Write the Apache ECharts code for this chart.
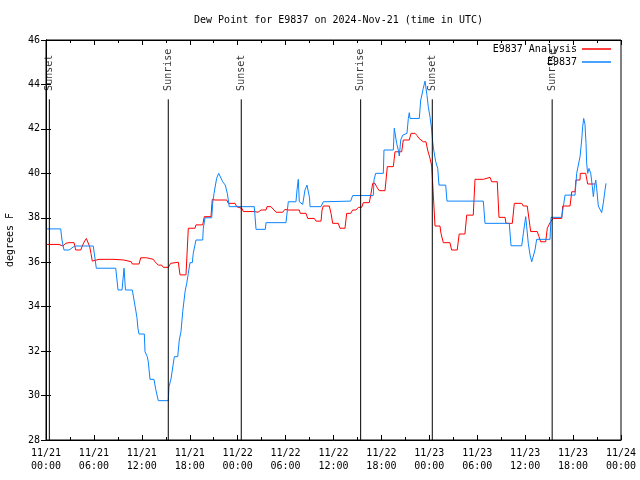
<!DOCTYPE html>
<html>
<head>
<meta charset="utf-8">
<script src="https://cdn.jsdelivr.net/npm/echarts@6/dist/echarts.min.js"></script>
<style>html,body{margin:0;padding:0;background:#fff}#c{width:640px;height:480px}</style>
</head>
<body>
<div id="c"></div>
<script>
// Hours since 2024-11-21 00:00 UTC
const obsHours = [0.09,1.84,2.0,2.25,2.88,3.59,5.92,6.30,8.73,9.02,9.52,9.77,9.95,10.81,11.02,11.27,11.39,11.52,11.65,12.31,12.40,12.68,12.81,13.02,13.52,13.74,14.06,15.31,15.40,15.65,15.78,16.07,16.49,16.69,16.90,17.12,17.41,17.62,17.82,18.03,18.32,18.44,18.78,19.62,19.70,19.91,20.75,20.87,21.04,21.37,21.62,21.79,22.13,22.45,22.70,22.95,26.08,26.30,27.46,27.55,30.05,30.34,31.30,31.43,31.59,31.72,32.14,32.27,32.43,32.68,32.93,33.0,33.06,34.44,34.72,38.15,38.40,40.98,41.07,41.28,42.24,42.32,43.49,43.61,43.91,44.11,44.24,44.42,44.67,45.20,45.37,45.49,45.58,46.74,46.92,47.04,47.24,47.46,47.58,47.71,47.87,48.08,48.30,48.42,48.55,48.80,49.05,49.21,50.05,50.21,54.76,54.97,58.01,58.23,59.57,59.77,60.07,60.19,60.39,60.61,60.82,61.02,61.23,61.44,63.11,63.24,64.58,64.99,66.24,66.45,66.65,66.87,67.08,67.20,67.33,67.49,67.62,67.70,67.83,67.99,68.21,68.41,68.54,68.66,68.84,68.96,69.16,69.37,69.58,69.78,70.0,70.12];
const obsValues = [37.5,37.5,37.0,36.55,36.55,36.73,36.73,35.73,35.73,34.75,34.75,35.73,34.75,34.75,34.3,33.77,33.5,33.0,32.77,32.77,31.97,31.75,31.52,30.73,30.73,30.28,29.77,29.77,30.4,30.74,30.74,31.75,31.75,32.5,32.87,33.77,34.67,35.05,35.5,35.98,35.98,36.4,37.0,37.0,37.53,38.0,38.0,38.65,39.1,39.78,40.0,40.0,39.62,39.47,39.1,38.5,38.5,37.48,37.48,37.78,37.78,38.72,38.72,39.25,39.73,38.72,38.6,38.53,39.25,39.47,39.5,38.9,38.5,38.5,38.72,38.75,39.0,39.0,39.7,40.0,40.0,41.05,41.05,42.03,41.35,41.05,40.78,41.5,41.72,41.8,42.47,42.73,42.47,42.47,43.3,43.48,43.83,44.15,44.12,43.5,43.0,42.55,41.95,41.42,41.05,40.52,40.22,39.47,39.47,38.75,38.75,37.75,37.75,36.74,36.74,37.3,38.05,37.6,36.85,36.33,36.02,36.02,36.55,37.03,37.03,38.02,38.02,39.02,39.02,40.0,40.0,40.75,41.5,42.1,42.47,42.2,41.35,40.45,40.0,40.22,40.0,39.4,38.95,39.35,39.7,39.3,38.53,38.45,38.23,38.65,39.25,39.55];

const anaHours = [0.09,1.63,1.84,2.13,2.47,2.88,3.51,3.72,4.35,4.55,4.76,5.05,5.30,5.47,5.63,5.80,6.01,6.64,8.51,8.73,9.76,9.98,10.68,10.81,11.65,11.86,12.61,12.81,13.44,13.65,14.06,14.49,14.69,15.31,15.61,15.74,16.57,16.78,17.53,17.82,18.66,18.78,19.62,19.82,20.66,20.82,21.16,22.63,22.83,23.67,23.88,24.13,24.54,24.71,26.08,26.55,26.92,27.55,27.67,28.17,28.80,29.64,29.93,30.27,31.72,31.84,32.56,32.77,33.60,33.81,34.44,34.56,34.72,35.47,35.69,35.90,36.60,36.81,37.44,37.65,38.15,38.40,38.81,39.11,39.53,39.73,40.48,40.70,40.91,41.20,41.39,41.73,42.45,42.74,43.49,43.70,44.54,44.74,45.49,45.71,46.21,46.46,46.71,46.96,47.24,47.58,47.79,48.08,48.30,48.50,48.71,49.33,49.46,49.62,49.75,50.58,50.79,51.49,51.74,52.46,52.68,53.50,53.72,54.76,54.89,55.60,55.81,56.51,56.72,57.48,57.60,58.39,58.64,59.57,59.77,60.26,60.69,61.52,61.73,61.94,62.57,62.77,63.02,63.19,63.52,64.58,64.70,65.62,65.83,66.24,66.36,66.87,66.90,67.58,67.83,68.74];
const anaValues = [36.8,36.8,36.73,36.73,36.85,36.88,36.88,36.55,36.55,36.73,36.9,37.07,37.07,36.7,36.4,36.05,36.05,36.13,36.13,36.1,36.1,36.02,36.02,35.92,35.92,36.2,36.2,36.13,36.13,36.02,35.87,35.87,35.77,35.77,35.95,36.0,36.0,35.43,35.43,37.53,37.53,37.68,37.68,38.05,38.05,38.83,38.8,38.8,38.65,38.65,38.5,38.42,38.42,38.28,38.28,38.25,38.35,38.35,38.5,38.5,38.25,38.25,38.38,38.35,38.35,38.2,38.2,37.97,37.97,37.85,37.85,38.35,38.53,38.53,38.2,37.75,37.75,37.53,37.53,38.2,38.2,38.35,38.35,38.47,38.47,38.68,38.68,39.1,39.55,39.55,39.4,39.22,39.22,40.3,40.3,40.97,40.97,41.5,41.5,41.8,41.8,41.7,41.57,41.57,41.42,41.42,41.05,40.68,40.33,40.3,37.63,37.63,37.3,37.3,36.88,36.88,36.55,36.55,37.27,37.27,38.12,38.12,39.73,39.73,39.82,39.82,39.62,39.62,38.02,38.02,37.75,37.75,38.65,38.65,38.53,38.53,37.38,37.38,37.15,36.92,36.92,37.53,37.53,37.83,37.97,37.97,38.53,38.53,39.17,39.17,39.7,39.7,40.0,40.0,39.52,39.52];

const sunHours = [0.42, 15.31, 24.45, 39.40, 48.37, 63.38];
const sunLabels = ['Sunset', 'Sunrise', 'Sunset', 'Sunrise', 'Sunset', 'Sunrise'];
const sunLineTop = 43.33;
const sunTextBase = 43.62;

const yTicks = [28, 30, 32, 34, 36, 38, 40, 42, 44, 46];

const FONT = 'DejaVu Sans Mono';
const pad = n => (n < 10 ? '0' : '') + n;
const xFmt = v => '11/' + (21 + Math.floor(v / 24)) + '\n' + pad(v % 24) + ':00';

const zip = (a, b) => a.map((x, i) => [x, b[i]]);

const sunSeries = sunHours.map((h, i) => ({
  type: 'line', name: 'sun' + i, silent: true, symbol: 'none', z: 5,
  lineStyle: { color: '#000', width: 1 },
  data: [[h, 28], [h, sunLineTop]]
}));
const sunText = {
  type: 'scatter', name: 'suntext', silent: true, symbolSize: 0, z: 6,
  data: sunHours.map((h, i) => ({ value: [h, sunTextBase], label: { formatter: sunLabels[i] } })),
  label: { show: true, position: 'inside', rotate: 90, align: 'left', verticalAlign: 'middle',
           offset: [2, 0], fontFamily: FONT, fontSize: 10, color: '#000' }
};

const axisCommon = {
  type: 'value', min: 0, max: 72, interval: 6,
  axisLine: { lineStyle: { color: '#000', width: 1 } },
  axisTick: { inside: true, length: 5, lineStyle: { color: '#000' } },
  minorTick: { show: true, splitNumber: 2, length: 3, lineStyle: { color: '#000' } },
  splitLine: { show: false }
};
const yCommon = {
  type: 'value', min: yTicks[0], max: yTicks[yTicks.length - 1], interval: 2,
  axisLine: { show: true, lineStyle: { color: '#000', width: 1 } },
  axisTick: { show: true, inside: true, length: 5, lineStyle: { color: '#000' } },
  splitLine: { show: false }
};

const chart = echarts.init(document.getElementById('c'), null, { renderer: 'canvas' });
chart.setOption({
  animation: false,
  backgroundColor: '#fff',
  title: {
    text: 'Dew Point for E9837 on 2024-Nov-21 (time in UTC)',
    left: 333.5, textAlign: 'center', top: 10,
    textStyle: { fontFamily: FONT, fontSize: 10, fontWeight: 'normal', color: '#000' }
  },
  grid: { left: 46, right: 19, top: 40, bottom: 40, show: true, borderColor: '#000', borderWidth: 1,
          containLabel: false, outerBoundsMode: 'none' },
  legend: [
    { data: ['E9837 Analysis'], right: 29, top: 44, padding: 0, align: 'right', icon: 'rect', itemWidth: 29, itemHeight: 1.5,
      selectedMode: false, textStyle: { fontFamily: FONT, fontSize: 10, color: '#000' } },
    { data: ['E9837'], right: 29, top: 57, padding: 0, align: 'right', icon: 'rect', itemWidth: 29, itemHeight: 1.5,
      selectedMode: false, textStyle: { fontFamily: FONT, fontSize: 10, color: '#000' } }
  ],
  xAxis: [
    Object.assign({}, axisCommon, { position: 'bottom',
      axisLabel: { formatter: xFmt, fontFamily: FONT, fontSize: 10, color: '#000', margin: 7, lineHeight: 13 } }),
    Object.assign({}, axisCommon, { position: 'top', axisLabel: { show: false } })
  ],
  yAxis: [
    Object.assign({}, yCommon, { position: 'left', name: 'degrees F', nameLocation: 'middle', nameGap: 31, nameRotate: 90,
      nameTextStyle: { fontFamily: FONT, fontSize: 10, color: '#000' },
      axisLabel: { fontFamily: FONT, fontSize: 10, color: '#000', margin: 6 } }),
    Object.assign({}, yCommon, { position: 'right', axisLabel: { show: false } })
  ],
  series: [
    { type: 'line', name: 'E9837 Analysis', data: zip(anaHours, anaValues), symbol: 'none', z: 3,
      lineStyle: { color: '#ff0000', width: 1 }, itemStyle: { color: '#ff0000' } },
    { type: 'line', name: 'E9837', data: zip(obsHours, obsValues), symbol: 'none', z: 4,
      lineStyle: { color: '#0a84ff', width: 1 }, itemStyle: { color: '#0a84ff' } }
  ].concat(sunSeries, [sunText])
});
</script>
</body>
</html>
